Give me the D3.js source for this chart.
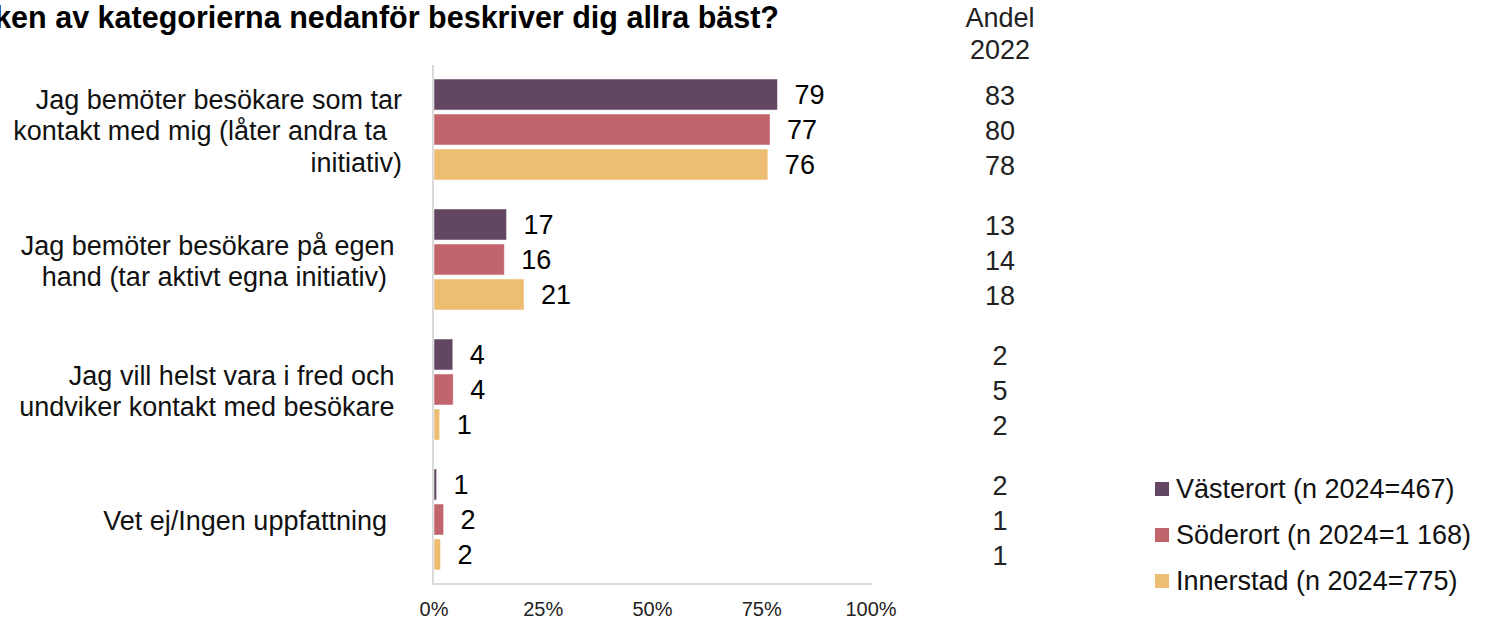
<!DOCTYPE html>
<html>
<head>
<meta charset="utf-8">
<script src="https://cdn.jsdelivr.net/npm/d3@7"></script>
<style>
body { margin: 0; background: #fff; }
text { font-family: "Liberation Sans", Arial, sans-serif; }
</style>
</head>
<body>
<script>
// categories (trailing spaces kept as in the original labels)
let categories = ["c1", "c2", "c3", "c4"];
let catLabels = [
	["Jag bemöter besökare som tar", "kontakt med mig (låter andra ta  ", "initiativ)"],
	["Jag bemöter besökare på egen ", "hand (tar aktivt egna initiativ)  "],
	["Jag vill helst vara i fred och ", "undviker kontakt med besökare "],
	["Vet ej/Ingen uppfattning  "]
];
let series = ["Västerort (n 2024=467)", "Söderort (n 2024=1 168)", "Innerstad (n 2024=775)"];
let colors = ["#624662", "#c2646c", "#edbd72"];
// share 2024, per series, per category
let vasterort = [78.6, 16.6, 4.3, 0.6];
let soderort = [76.9, 16.1, 4.4, 2.2];
let innerstad = [76.4, 20.6, 1.3, 1.5];
// share 2022 column
let andel2022 = [[83, 80, 78], [13, 14, 18], [2, 5, 2], [2, 1, 1]];
let xTicks = [0, 25, 50, 75, 100];

let values = [vasterort, soderort, innerstad];
let fs = "27px";

let svg = d3.select("body").append("svg")
	.attr("width", 1485)
	.attr("height", 619);

x = d3.scaleLinear().domain([0, 100]).range([434, 871]);
y = d3.scaleBand().domain(categories).range([65, 585]);
let yi = d3.scaleBand().domain(series).range([14, 115]).paddingInner(0.114);

// title (clipped on the left, as in the picture)
svg.append("text")
	.attr("x", 779).attr("y", 28)
	.attr("text-anchor", "end")
	.attr("font-size", "30.5px").attr("font-weight", "bold")
	.attr("fill", "#000")
	.text("Vilken av kategorierna nedanför beskriver dig allra bäst?");

// axes lines
svg.append("line")
	.attr("x1", x(0) - 1).attr("x2", x(0) - 1)
	.attr("y1", 65).attr("y2", 585)
	.attr("stroke", "#d9d9d9").attr("stroke-width", 2);
svg.append("line")
	.attr("x1", x(0) - 2).attr("x2", x(100) + 1)
	.attr("y1", 584).attr("y2", 584)
	.attr("stroke", "#d9d9d9").attr("stroke-width", 2);

svg.selectAll("text.tick").data(xTicks).enter().append("text")
	.attr("class", "tick")
	.attr("x", d => x(d)).attr("y", 609)
	.attr("dy", "0.35em")
	.attr("text-anchor", "middle")
	.attr("font-size", "20px").attr("fill", "#222")
	.text(d => d + "%");

// category labels
categories.forEach(function(c, i) {
	let lines = catLabels[i];
	let mid = y(c) + y.bandwidth() / 2 + 1;
	let lh = 31.5;
	lines.forEach(function(l, j) {
		svg.append("text")
			.attr("x", 402)
			.attr("y", mid + (j - (lines.length - 1) / 2) * lh)
			.attr("dy", "0.35em")
			.attr("text-anchor", "end")
			.attr("font-size", fs).attr("fill", "#111")
			.style("white-space", "pre")
			.text(l);
	});
});

// bars
series.forEach(function(s, si) {
	let g = svg.append("g").attr("class", "series");
	g.selectAll("rect").data(values[si]).enter().append("rect")
		.attr("x", x(0))
		.attr("y", (d, i) => y(categories[i]) + yi(s))
		.attr("width", d => x(d) - x(0))
		.attr("height", yi.bandwidth())
		.attr("fill", colors[si])
		.attr("stroke", "#fff").attr("stroke-opacity", 0.5).attr("stroke-width", 1);
	g.selectAll("text").data(values[si]).enter().append("text")
		.attr("x", d => x(d) + 17)
		.attr("y", (d, i) => y(categories[i]) + yi(s) + yi.bandwidth() / 2)
		.attr("dy", "0.35em")
		.attr("font-size", fs).attr("fill", "#000")
		.text(d => Math.round(d));
});

// Andel 2022 column
svg.append("text").attr("x", 1000).attr("y", 18).attr("dy", "0.35em")
	.attr("text-anchor", "middle").attr("font-size", fs).attr("fill", "#222")
	.text("Andel");
svg.append("text").attr("x", 1000).attr("y", 50).attr("dy", "0.35em")
	.attr("text-anchor", "middle").attr("font-size", fs).attr("fill", "#222")
	.text("2022");
categories.forEach(function(c, i) {
	series.forEach(function(s, si) {
		svg.append("text")
			.attr("x", 1000)
			.attr("y", y(c) + yi(s) + yi.bandwidth() / 2 + 1)
			.attr("dy", "0.35em")
			.attr("text-anchor", "middle")
			.attr("font-size", fs).attr("fill", "#222")
			.text(andel2022[i][si]);
	});
});

// legend
let lg = svg.append("g").attr("class", "legend");
series.forEach(function(s, si) {
	let ly = 489 + si * 46;
	lg.append("rect")
		.attr("x", 1155).attr("y", ly - 7)
		.attr("width", 14).attr("height", 14)
		.attr("fill", colors[si]);
	lg.append("text")
		.attr("x", 1176).attr("y", ly)
		.attr("dy", "0.35em")
		.attr("font-size", fs).attr("fill", "#111")
		.text(s);
});
</script>
</body>
</html>
